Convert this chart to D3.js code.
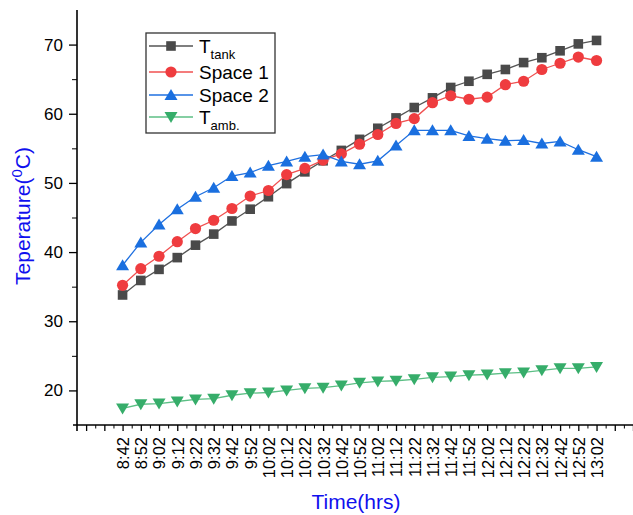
<!DOCTYPE html>
<html>
<head>
<meta charset="UTF-8">
<title>Temperature</title>
<style>
  body { margin: 0; background: #fff; }
  text { font-family: "Liberation Sans", Arial, sans-serif; }
</style>
</head>
<body>
<script src="https://cdn.jsdelivr.net/npm/d3@7"></script>
<script>
// time labels, one per reading (every 10 minutes)
var times = ["8:42","8:52","9:02","9:12","9:22","9:32","9:42","9:52","10:02","10:12",
             "10:22","10:32","10:42","10:52","11:02","11:12","11:22","11:32","11:42","11:52",
             "12:02","12:12","12:22","12:32","12:42","12:52","13:02"];

// series values
var tTank  = [33.8,35.9,37.5,39.2,41.0,42.6,44.5,46.2,48.0,49.9,
              51.6,53.2,54.7,56.3,57.9,59.4,60.9,62.3,63.8,64.7,
              65.7,66.4,67.4,68.1,69.1,70.1,70.6];
var space1 = [35.2,37.6,39.4,41.5,43.4,44.6,46.3,48.1,48.9,51.2,
              52.1,53.3,54.2,55.6,57.0,58.6,59.3,61.6,62.6,62.1,
              62.4,64.2,64.7,66.4,67.3,68.2,67.7];
var space2 = [38.1,41.4,44.0,46.2,48.0,49.3,51.0,51.5,52.5,53.1,
              53.8,54.1,53.1,52.7,53.2,55.4,57.6,57.6,57.6,56.8,
              56.4,56.1,56.2,55.7,56.0,54.8,53.8];
var tAmb   = [17.4,18.0,18.1,18.4,18.7,18.8,19.3,19.6,19.7,20.0,
              20.3,20.4,20.7,21.1,21.3,21.4,21.6,21.9,22.0,22.2,
              22.3,22.5,22.6,22.9,23.2,23.2,23.4];

var yMajor = [20,30,40,50,60,70];
var yMinor = [25,35,45,55,65];

var width = 633, height = 515;
var svg = d3.select("body").append("svg")
    .attr("width", width)
    .attr("height", height);

var x = d3.scaleLinear().domain([-2.5, 28]).range([77, 633]);
var y = d3.scaleLinear().domain([15, 75]).range([425, 10]);

// series definitions
var series = [
  {name:"T", sub:"tank",  data:tTank,  line:"#555555", fill:"#4a4a4a", shape:"square"},
  {name:"Space 1", sub:"", data:space1, line:"#f05050", fill:"#ef3c3f", shape:"circle"},
  {name:"Space 2", sub:"", data:space2, line:"#1f70e0", fill:"#1a6fdf", shape:"up"},
  {name:"T", sub:"amb.",  data:tAmb,   line:"#5cbf85", fill:"#36ad6a", shape:"down"}
];

function marker(g, shape, cx, cy, fill) {
  if (shape == "square") {
    g.append("rect").attr("x", cx-4.8).attr("y", cy-4.8)
      .attr("width", 9.6).attr("height", 9.6).attr("fill", fill);
  } else if (shape == "circle") {
    g.append("circle").attr("cx", cx).attr("cy", cy).attr("r", 5.6).attr("fill", fill);
  } else if (shape == "up") {
    g.append("path").attr("d", "M"+cx+","+(cy-6)+"L"+(cx+6.5)+","+(cy+5)+"L"+(cx-6.5)+","+(cy+5)+"Z")
      .attr("fill", fill);
  } else {
    g.append("path").attr("d", "M"+cx+","+(cy+6)+"L"+(cx+6.5)+","+(cy-5)+"L"+(cx-6.5)+","+(cy-5)+"Z")
      .attr("fill", fill);
  }
}

// lines and markers
var line = d3.line().x(function(d,i){ return x(i); }).y(function(d){ return y(d); });
series.forEach(function(s){
  var g = svg.append("g");
  g.append("path").datum(s.data)
    .attr("d", line)
    .attr("fill", "none")
    .attr("stroke", s.line)
    .attr("stroke-width", 1.3);
  s.data.forEach(function(v,i){
    marker(g, s.shape, x(i), y(v), s.fill);
  });
});

// y axis
var yAxis = svg.append("g").attr("transform", "translate(77,0)")
  .call(d3.axisLeft(y).tickValues(yMajor).tickSize(8).tickPadding(6).tickSizeOuter(0));
svg.append("g").attr("transform", "translate(77,0)")
  .call(d3.axisLeft(y).tickValues(yMinor).tickSize(5).tickFormat("").tickSizeOuter(0))
  .select(".domain").remove();
yAxis.select(".domain").remove();
yAxis.selectAll("text").attr("font-size", 17).attr("fill", "#000")
  .style("font-family", "Liberation Sans, Arial, sans-serif");
yAxis.selectAll("line").attr("stroke-width", 1.3);

// x axis
var xMajor = d3.range(-2, 29);
var xMinor = d3.range(-1.5, 28, 1);
var xAxis = svg.append("g").attr("transform", "translate(0,425)")
  .call(d3.axisBottom(x).tickValues(xMajor).tickSize(6)
    .tickFormat(function(d){ return times[d] || ""; }));
svg.append("g").attr("transform", "translate(0,425)")
  .call(d3.axisBottom(x).tickValues(xMinor).tickSize(3.5).tickFormat(""))
  .select(".domain").remove();
xAxis.select(".domain").remove();
xAxis.selectAll("line").attr("stroke-width", 1.3);
xAxis.selectAll("text")
  .attr("font-size", 16.5).attr("fill", "#000")
  .style("font-family", "Liberation Sans, Arial, sans-serif")
  .attr("transform", "rotate(-90)")
  .attr("text-anchor", "end")
  .attr("x", -12).attr("y", 0).attr("dy", "0.36em");

// axis lines
svg.append("line").attr("x1", 77).attr("x2", 77).attr("y1", 10).attr("y2", 431)
  .attr("stroke", "#000").attr("stroke-width", 1.6);
svg.append("line").attr("x1", 73).attr("x2", 633).attr("y1", 425).attr("y2", 425)
  .attr("stroke", "#000").attr("stroke-width", 1.6);

// axis titles
var yt = svg.append("text")
  .attr("transform", "translate(30,216) rotate(-90)")
  .attr("text-anchor", "middle")
  .attr("font-size", 21)
  .attr("fill", "#1010ee");
yt.append("tspan").text("Teperature(");
yt.append("tspan").text("0").attr("font-size", 15).attr("dy", -8);
yt.append("tspan").text("C)").attr("dy", 8);

svg.append("text")
  .attr("x", 356).attr("y", 509)
  .attr("text-anchor", "middle")
  .attr("font-size", 21)
  .attr("fill", "#1010ee")
  .text("Time(hrs)");

// legend
var leg = svg.append("g");
leg.append("rect").attr("x", 146).attr("y", 33).attr("width", 129).attr("height", 100)
  .attr("fill", "#fff").attr("stroke", "#333").attr("stroke-width", 1.3);
var rowY = [46, 72, 95, 117];
series.forEach(function(s,i){
  var ry = rowY[i];
  leg.append("line").attr("x1", 149).attr("x2", 193).attr("y1", ry).attr("y2", ry)
    .attr("stroke", s.line).attr("stroke-width", 1.3);
  marker(leg, s.shape, 171, ry, s.fill);
  var t = leg.append("text").attr("x", 199).attr("y", ry+7)
    .attr("font-size", 19).attr("fill", "#000");
  t.append("tspan").text(s.name);
  if (s.sub) t.append("tspan").text(s.sub).attr("font-size", 13).attr("dy", 6);
});
</script>
</body>
</html>
